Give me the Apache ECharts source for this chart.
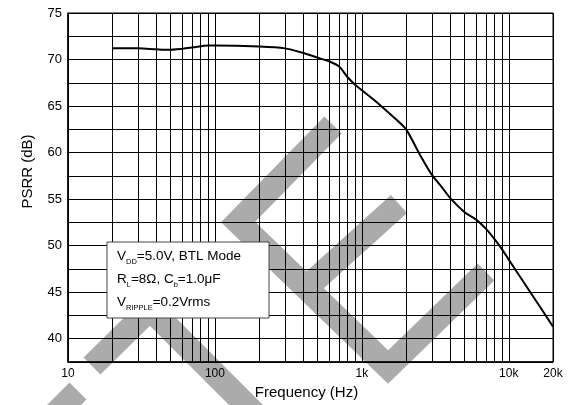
<!DOCTYPE html>
<html>
<head>
<meta charset="utf-8">
<script src="https://cdn.jsdelivr.net/npm/echarts@6/dist/echarts.min.js"></script>
<style>
html,body{margin:0;padding:0;background:#fff;}
#chart{width:573px;height:405px;}
</style>
</head>
<body>
<div id="chart"></div>
<script>
// Data
var frequency = [20, 30, 40, 50, 70, 90, 100, 200, 300, 400, 500, 600, 700, 800, 900, 1000, 1200, 1400, 1700, 2000, 2500, 3000, 3500, 4000, 5000, 6000, 7000, 8000, 9000, 10000, 12000, 15000, 20000];
var psrr = [71.2, 71.2, 71.1, 71.05, 71.3, 71.5, 71.5, 71.4, 71.2, 70.7, 70.2, 69.8, 69.25, 68.1, 67.3, 66.7, 65.7, 64.8, 63.6, 62.5, 59.7, 57.6, 56.3, 55.1, 53.6, 52.8, 51.8, 50.7, 49.6, 48.5, 46.6, 44.3, 41.3];
var minorFreqs = [20, 30, 40, 50, 60, 70, 80, 90, 200, 300, 400, 500, 600, 700, 800, 900, 2000, 3000, 4000, 5000, 6000, 7000, 8000, 9000];
var xTickLabels = {10: '10', 100: '100', 1000: '1k', 10000: '10k', 20000: '20k'};
var yMin = 37.5, yMax = 75, yStep = 2.5;
var legendLines = [
  '{a|V}{s|DD}{a|=5.0V, BTL Mode}',
  '{a|R}{s|L}{a|=8\u03A9, C}{s|b}{a|=1.0\u03BCF}',
  '{a|V}{s|RIPPLE}{a|=0.2Vrms}'
];

var chart = echarts.init(document.getElementById('chart'), null, {renderer: 'canvas'});
var FONT = 'Liberation Sans, Arial, sans-serif';
var WM = '#ababab';
var wmStyle = {stroke: WM, lineWidth: 24, fill: null, lineJoin: 'miter', lineCap: 'butt'};

var richStyles = {
  a: {fontSize: 13.5, fontFamily: FONT, color: '#000'},
  s: {fontSize: 7.5, fontFamily: FONT, color: '#000', padding: [12, 0, 0, 0]}
};

var option = {
  animation: false,
  backgroundColor: '#fff',
  grid: {left: 68, top: 13, width: 485, height: 349, show: true, borderColor: '#000', borderWidth: 1, backgroundColor: 'transparent'},
  xAxis: {
    type: 'log', logBase: 10, min: 10, max: 20000,
    name: 'Frequency (Hz)', nameLocation: 'middle', nameGap: 21,
    nameTextStyle: {fontSize: 15, fontFamily: FONT, color: '#000', padding: [0, 8, 0, 0]},
    axisLine: {show: true, lineStyle: {color: '#000', width: 1.5}},
    axisTick: {show: false},
    splitLine: {show: true, lineStyle: {color: '#000', width: 1}},
    axisLabel: {
      fontSize: 12, fontFamily: FONT, color: '#000', margin: 6,
      showMaxLabel: true, showMinLabel: true,
      formatter: function (v) { var k = Math.round(v); return xTickLabels[k] !== undefined ? xTickLabels[k] : ''; }
    }
  },
  yAxis: {
    type: 'value', min: yMin, max: yMax, interval: yStep,
    name: 'PSRR (dB)', nameLocation: 'middle', nameGap: 33,
    nameTextStyle: {fontSize: 15, fontFamily: FONT, color: '#000', padding: [0, 0, 0, 32]},
    axisLine: {show: true, lineStyle: {color: '#000', width: 1.5}},
    axisTick: {show: false},
    splitLine: {show: true, lineStyle: {color: '#000', width: 1}},
    axisLabel: {
      fontSize: 13, fontFamily: FONT, color: '#000', margin: 6,
      formatter: function (v) { return (Math.abs(v % 5) < 1e-6) ? String(v) : ''; }
    }
  },
  graphic: [
    {type: 'polyline', z: -10, silent: true, shape: {points: [[78, 391], [30, 439]]}, style: wmStyle},
    {type: 'polyline', z: -10, silent: true, shape: {points: [[92, 366], [150, 309], [270, 429]]}, style: wmStyle},
    {type: 'polyline', z: -10, silent: true, shape: {points: [[333, 125], [238, 222], [388, 367], [486, 272]]}, style: wmStyle},
    {type: 'polyline', z: -10, silent: true, shape: {points: [[305, 289], [399, 204]]}, style: wmStyle},
    {type: 'rect', z: 100, silent: true, shape: {x: 107, y: 242, width: 162, height: 76}, style: {fill: '#fff', stroke: '#444', lineWidth: 1}},
    {type: 'text', z: 101, silent: true, style: {x: 117, y: 256, verticalAlign: 'middle', text: legendLines[0], rich: richStyles}},
    {type: 'text', z: 101, silent: true, style: {x: 117, y: 279, verticalAlign: 'middle', text: legendLines[1], rich: richStyles}},
    {type: 'text', z: 101, silent: true, style: {x: 117, y: 302, verticalAlign: 'middle', text: legendLines[2], rich: richStyles}}
  ],
  series: [{
    type: 'line',
    data: frequency.map(function (f, i) { return [f, psrr[i]]; }),
    showSymbol: false,
    smooth: 0.3,
    lineStyle: {color: '#000', width: 2},
    z: 5,
    markLine: {
      silent: true, symbol: 'none', label: {show: false},
      lineStyle: {color: '#000', width: 1, type: 'solid'},
      emphasis: {disabled: true},
      data: minorFreqs.map(function (f) { return {xAxis: f}; })
    }
  }]
};
chart.setOption(option);
</script>
</body>
</html>
